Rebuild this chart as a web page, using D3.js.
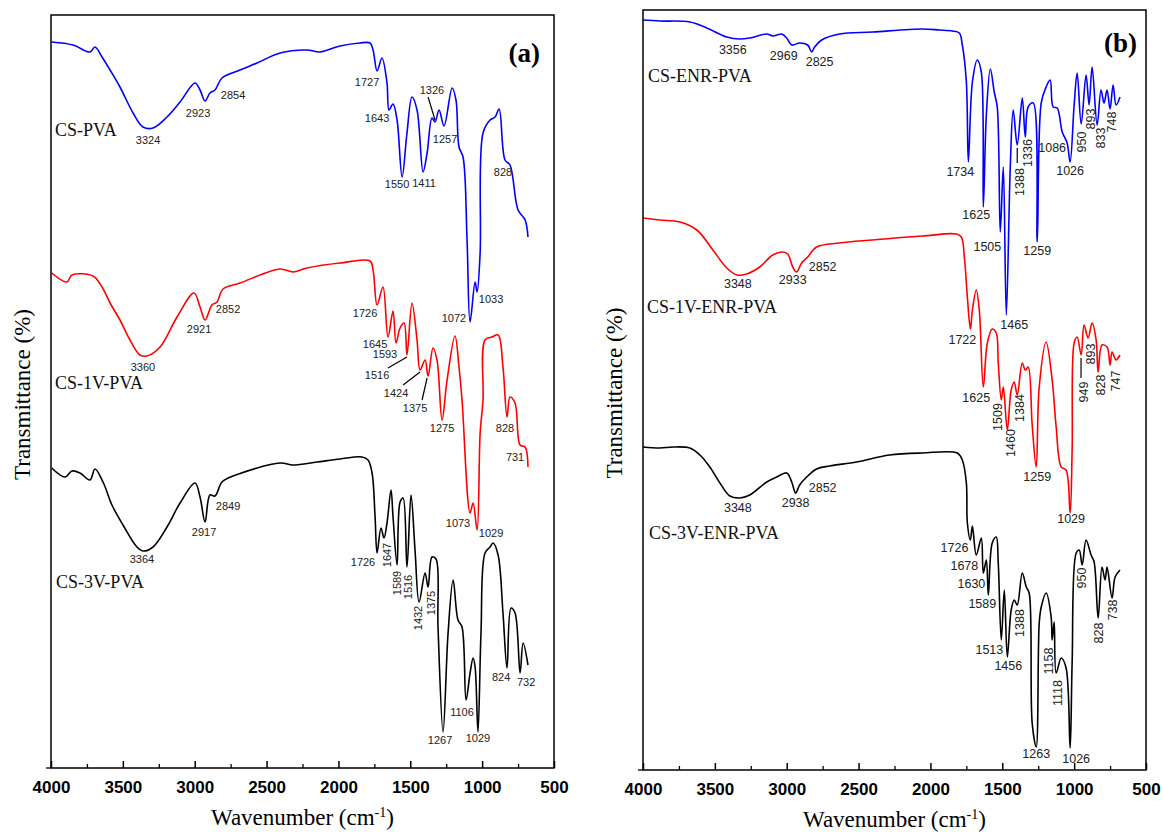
<!DOCTYPE html>
<html>
<head>
<meta charset="utf-8">
<script src="https://cdn.jsdelivr.net/npm/d3@7"></script>
<style>
  body { margin: 0; background: #fff; }
  svg { display: block; }
</style>
</head>
<body>
<svg id="chart" width="1163" height="832"></svg>
<script>
// ---- data: [wavenumber (cm-1), transmittance (offset %)] ----
const csPva = [[3995,72.6],[3847,72.3],[3729,71.6],[3694,72.1],[3645,71.1],[3589,69.8],[3520,68.1],[3429,65.5],[3360,64.1],[3290,64.0],[3193,65.1],[3102,66.6],[2998,68.5],[2963,67.8],[2928,66.7],[2894,67.5],[2859,67.8],[2810,69.0],[2685,69.8],[2566,70.5],[2406,71.5],[2218,71.8],[2128,71.6],[1989,72.2],[1850,72.5],[1780,72.5],[1759,71.8],[1731,69.7],[1697,71.0],[1662,68.5],[1648,65.8],[1620,66.4],[1592,64.8],[1557,59.1],[1523,63.5],[1488,67.1],[1453,65.8],[1411,59.6],[1383,61.5],[1349,65.0],[1328,64.6],[1300,65.8],[1265,64.2],[1209,68.0],[1182,66.8],[1161,62.1],[1133,61.1],[1105,52.8],[1084,44.6],[1049,48.6],[1035,47.6],[1014,51.5],[994,63.5],[945,64.8],[910,65.1],[882,65.9],[841,60.8],[806,60.3],[750,55.8],[701,54.8],[681,53.1]];
const cs1vPva = [[3995,49.5],[3889,48.6],[3854,49.3],[3708,49.2],[3645,48.1],[3589,46.5],[3520,44.8],[3450,42.8],[3381,41.3],[3332,41.2],[3241,42.1],[3123,45.1],[3005,47.5],[2963,46.1],[2928,44.8],[2880,46.3],[2845,46.6],[2803,47.9],[2685,48.5],[2406,49.9],[2316,49.6],[2218,50.0],[1989,50.5],[1780,50.7],[1759,49.8],[1731,46.3],[1690,48.1],[1655,43.1],[1620,45.7],[1599,42.5],[1571,44.0],[1543,44.5],[1523,41.3],[1488,46.5],[1453,42.8],[1432,39.8],[1397,40.8],[1376,39.2],[1342,42.0],[1314,40.8],[1279,34.8],[1244,38.8],[1189,43.2],[1161,40.1],[1140,36.8],[1084,25.5],[1063,26.5],[1035,23.8],[1014,33.5],[994,36.8],[980,42.8],[931,43.1],[889,43.3],[855,40.1],[827,35.1],[806,37.1],[771,36.5],[736,32.3],[701,32.1],[681,30.1]];
const cs3vPva = [[3995,30.0],[3903,29.1],[3854,29.7],[3798,29.5],[3729,28.8],[3694,29.9],[3638,28.6],[3576,26.3],[3499,24.3],[3402,22.1],[3360,21.7],[3290,22.1],[3193,24.1],[3102,26.5],[2998,28.5],[2963,27.1],[2928,24.6],[2894,27.3],[2859,27.2],[2810,28.6],[2733,29.2],[2406,30.5],[2316,30.3],[2149,30.6],[1989,30.9],[1836,31.1],[1794,30.8],[1766,29.5],[1745,25.1],[1731,21.5],[1704,24.0],[1683,23.0],[1662,24.5],[1634,27.8],[1620,25.1],[1592,20.3],[1571,26.6],[1550,27.0],[1523,20.1],[1495,27.3],[1467,21.8],[1439,16.6],[1397,19.5],[1376,18.1],[1349,21.1],[1321,20.9],[1307,14.1],[1272,3.6],[1237,13.5],[1202,18.8],[1168,14.8],[1140,14.1],[1112,6.8],[1084,9.5],[1063,11.0],[1049,10.1],[1029,3.6],[1008,13.5],[980,21.5],[945,22.1],[924,22.5],[889,21.3],[855,15.5],[827,10.0],[799,16.0],[771,15.5],[736,9.5],[715,12.5],[681,10.3]];

const csEnrPva = [[4000,75.0],[3882,74.9],[3674,74.8],[3556,74.2],[3417,73.3],[3326,73.1],[3257,73.2],[3139,73.6],[3097,73.4],[3035,73.6],[3000,73.2],[2965,72.5],[2910,72.7],[2854,72.5],[2826,71.8],[2806,72.3],[2757,73.0],[2632,73.6],[2403,73.8],[2056,74.1],[1938,74.0],[1847,73.9],[1799,73.7],[1778,72.5],[1750,68.8],[1736,60.8],[1708,68.8],[1674,71.0],[1646,69.8],[1632,56.3],[1611,65.5],[1583,70.1],[1556,67.8],[1535,66.3],[1514,53.8],[1493,60.3],[1472,45.5],[1444,60.5],[1424,66.0],[1396,62.5],[1361,67.2],[1340,63.3],[1320,66.3],[1285,66.7],[1257,52.8],[1229,66.7],[1195,68.3],[1167,69.0],[1146,66.3],[1118,66.2],[1083,63.8],[1049,62.7],[1028,60.8],[1000,66.5],[979,69.7],[951,64.6],[917,69.5],[896,66.5],[875,70.3],[840,64.5],[813,68.0],[792,66.7],[771,68.0],[750,66.1],[729,68.5],[708,66.5],[681,67.3]];
const cs1vEnrPva = [[4000,55.2],[3882,55.0],[3743,54.8],[3625,54.0],[3514,52.0],[3417,50.2],[3347,49.5],[3278,49.6],[3188,50.3],[3097,51.5],[3028,51.8],[2993,51.6],[2958,50.3],[2931,49.8],[2896,50.7],[2854,51.3],[2792,52.3],[2632,52.7],[2403,53.0],[2056,53.4],[1820,53.6],[1785,53.3],[1764,51.3],[1743,47.3],[1722,44.1],[1708,46.0],[1681,48.0],[1660,46.0],[1632,38.3],[1604,42.7],[1570,44.1],[1542,43.7],[1528,40.7],[1507,37.0],[1493,38.3],[1465,34.0],[1438,38.0],[1417,38.8],[1396,37.5],[1361,40.7],[1340,40.0],[1320,40.3],[1292,34.5],[1264,30.3],[1243,38.3],[1195,42.8],[1153,39.0],[1125,34.3],[1090,30.3],[1056,30.0],[1028,25.7],[1014,32.0],[1000,42.7],[979,43.3],[951,41.5],[931,44.5],[903,43.2],[875,44.7],[847,43.0],[833,39.8],[806,42.5],[771,42.3],[750,40.5],[736,41.8],[708,41.0],[681,41.5]];
const cs3vEnrPva = [[4000,32.3],[3882,32.2],[3792,32.3],[3674,32.2],[3604,31.5],[3535,30.3],[3465,28.7],[3396,27.4],[3326,27.2],[3257,27.5],[3139,28.8],[3069,29.3],[3000,29.7],[2965,28.8],[2938,27.7],[2910,28.5],[2861,29.3],[2792,30.1],[2701,30.4],[2514,30.8],[2285,31.5],[2056,31.7],[1813,31.7],[1778,31.0],[1750,28.7],[1743,24.7],[1722,23.0],[1708,24.4],[1681,21.5],[1646,23.2],[1632,19.7],[1611,21.0],[1597,17.5],[1570,22.7],[1542,23.3],[1528,20.7],[1507,13.0],[1486,18.0],[1465,11.3],[1438,16.0],[1417,17.0],[1396,16.5],[1361,19.7],[1333,18.3],[1313,17.7],[1292,4.7],[1264,2.3],[1243,14.7],[1229,16.3],[1195,17.7],[1160,15.3],[1153,13.0],[1139,14.8],[1125,9.7],[1090,11.2],[1056,10.2],[1028,2.2],[1014,10.7],[986,21.7],[965,22.0],[944,20.5],[917,23.0],[882,21.5],[861,20.8],[833,15.2],[806,20.3],[785,19.0],[771,20.3],[736,17.2],[715,19.3],[681,20.0]];

// peak labels: [text, wavenumber, transmittance, rotated]
const peaksA = [["3324",3325,62.8],["2923",2977,65.5],["2854",2733,67.3],["1727",1801,68.6],["1643",1731,65.0],["1326",1349,67.8],["1257",1258,62.9],["1550",1592,58.4],["1411",1404,58.5],["828",855,59.6],["1072",1196,45.0],["1033",938,46.9],
  ["3360",3360,40.1],["2921",2970,43.9],["2852",2768,45.9],["1726",1815,45.5],["1645",1745,42.4],["1593",1676,41.4],["1516",1731,39.3],["1424",1599,37.5],["1375",1467,36.0],["1275",1279,34.0],["828",841,34.0],["731",771,31.1],["1073",1168,24.5],["1029",938,23.5],
  ["3364",3367,20.9],["2917",2935,23.6],["2849",2768,26.2],["1726",1829,20.6],["1647",1662,21.3,true],["1589",1592,18.5,true],["1516",1516,18.1,true],["1432",1446,15.0,true],["1375",1356,16.5,true],["1106",1140,5.6],["1267",1293,2.8],["1029",1029,3.0],["824",868,9.1],["732",694,8.6]];
const leadersA = [[1376,67.1,1328,64.8],[1655,40.0,1523,41.1],[1550,38.3,1432,39.6],[1418,36.8,1383,39.0]];
const namesA = [["CS-PVA",3972,63.8],["CS-1V-PVA",3972,38.5],["CS-3V-PVA",3965,18.6]];

const peaksB = [["3356",3375,72.0],["2969",3021,71.4],["2825",2771,70.8],["1734",1792,59.8],["1625",1681,55.5],["1505",1604,52.3],["1259",1257,51.9],["1388",1382,58.8,true],["1336",1327,61.7,true],["1086",1153,62.2],["1026",1028,59.9],["950",945,62.8,true],["893",882,65.1,true],["833",813,63.2,true],["748",736,64.8,true],["1465",1417,44.5],
  ["3348",3340,48.6],["2933",2958,49.0],["2852",2750,50.3],["1722",1778,43.0],["1625",1681,37.2],["1509",1535,35.3,true],["1384",1382,36.2,true],["1460",1445,32.7,true],["1259",1257,29.3],["1029",1021,25.1],["949",931,37.8,true],["893",882,41.6,true],["828",813,38.5,true],["747",709,38.9,true],
  ["3348",3340,26.2],["2938",2938,26.7],["2852",2750,28.2],["1726",1833,22.2],["1678",1764,20.4],["1630",1715,18.6],["1589",1639,16.6],["1513",1590,12.0],["1456",1458,10.4],["1388",1382,14.7,true],["1158",1181,10.9,true],["1118",1118,7.7,true],["1263",1264,1.6],["1026",986,1.1],["950",945,19.2,true],["828",827,13.7,true],["738",729,16.0,true]];
const leadersB = [[1396,62.2,1396,60.7],[952,41.2,952,39.2]];
const namesB = [["CS-ENR-PVA",3965,69.4],["CS-1V-ENR-PVA",3972,46.3],["CS-3V-ENR-PVA",3958,23.7]];

const majorTicks = [4000, 3500, 3000, 2500, 2000, 1500, 1000, 500];
const minorTicks = [3750, 3250, 2750, 2250, 1750, 1250, 750];

const svg = d3.select("#chart");
const sans = "'Liberation Sans', Arial, sans-serif";
const serif = "'Liberation Serif', 'Times New Roman', serif";

function drawPanel(p) {
    const x = d3.scaleLinear().domain([4000, 500]).range([p.left, p.right]);
    const y = d3.scaleLinear().domain([0, p.ymax]).range([p.bottom, p.top]);
    const g = svg.append("g");

    // spectra, smoothed between the read-off points
    const line = d3.line().x(d => x(d[0])).y(d => y(d[1])).curve(d3.curveCatmullRom.alpha(0.5));
    p.series.forEach(s => {
        g.append("path").datum(s.data)
            .attr("d", line)
            .attr("fill", "none")
            .attr("stroke", s.color)
            .attr("stroke-width", 1.6)
            .attr("stroke-linejoin", "round");
    });

    // frame
    g.append("rect")
        .attr("x", p.left).attr("y", p.top)
        .attr("width", p.right - p.left).attr("height", p.bottom - p.top)
        .attr("fill", "none").attr("stroke", "#000").attr("stroke-width", 1.5);

    // x axis (ticks inward)
    const ax = g.append("g").attr("transform", `translate(0,${p.bottom})`)
        .call(d3.axisBottom(x).tickValues(majorTicks).tickSize(-7).tickSizeOuter(0).tickPadding(13).tickFormat(d3.format("d")));
    ax.select(".domain").remove();
    ax.selectAll("line").attr("stroke-width", 1.5);
    ax.selectAll("text").attr("font-family", sans).attr("font-weight", "bold").attr("font-size", 17).attr("fill", "#000");
    const mn = g.append("g").attr("transform", `translate(0,${p.bottom})`)
        .call(d3.axisBottom(x).tickValues(minorTicks).tickSize(-4).tickSizeOuter(0).tickFormat(""));
    mn.select(".domain").remove();
    mn.selectAll("line").attr("stroke-width", 1.3);
    g.append("line").attr("x1", p.left - 5).attr("x2", p.left)
        .attr("y1", p.bottom).attr("y2", p.bottom).attr("stroke", "#000").attr("stroke-width", 1.3);

    // axis titles
    const xt = g.append("text")
        .attr("x", (p.left + p.right) / 2).attr("y", p.bottom + 57)
        .attr("text-anchor", "middle").attr("font-family", serif).attr("font-size", 23);
    xt.append("tspan").text("Wavenumber (cm");
    xt.append("tspan").attr("dy", -8).attr("font-size", 14).text("-1");
    xt.append("tspan").attr("dy", 8).text(")");
    g.append("text")
        .attr("transform", `translate(${p.left - 29},${(p.top + p.bottom) / 2 + 3}) rotate(-90)`)
        .attr("text-anchor", "middle").attr("dy", "0.35em").attr("font-family", serif).attr("font-size", 23)
        .text("Transmittance (%)");

    // panel letter
    g.append("text").attr("x", x(p.letter[1])).attr("y", y(p.letter[2]))
        .attr("dy", "0.35em").attr("text-anchor", "end")
        .attr("font-family", serif).attr("font-weight", "bold").attr("font-size", 27)
        .text(p.letter[0]);

    // series names
    g.selectAll(".name").data(p.names).enter().append("text")
        .attr("x", d => x(d[1])).attr("y", d => y(d[2])).attr("dy", "0.35em")
        .attr("font-family", serif).attr("font-size", 18).attr("fill", "#111")
        .text(d => d[0]);

    // leader lines
    g.selectAll(".leader").data(p.leaders).enter().append("line")
        .attr("x1", d => x(d[0])).attr("y1", d => y(d[1]))
        .attr("x2", d => x(d[2])).attr("y2", d => y(d[3]))
        .attr("stroke", "#000").attr("stroke-width", 1.2);

    // peak labels
    g.selectAll(".peak").data(p.peaks).enter().append("text")
        .attr("transform", d => `translate(${x(d[1])},${y(d[2])})` + (d[3] ? " rotate(-90)" : ""))
        .attr("dy", "0.35em").attr("text-anchor", "middle")
        .attr("font-family", sans).attr("font-size", p.labelSize).attr("fill", "#222")
        .text(d => d[0]);
}

drawPanel({
    left: 51, right: 554, top: 15, bottom: 768, ymax: 75.3, labelSize: 11,
    series: [{data: csPva, color: "#0000ff"}, {data: cs1vPva, color: "#ff0000"}, {data: cs3vPva, color: "#000000"}],
    peaks: peaksA, leaders: leadersA, names: namesA, letter: ["(a)", 597, 71.5]
});
drawPanel({
    left: 643, right: 1146, top: 10, bottom: 770, ymax: 76, labelSize: 12.5,
    series: [{data: csEnrPva, color: "#0000ff"}, {data: cs1vEnrPva, color: "#ff0000"}, {data: cs3vEnrPva, color: "#000000"}],
    peaks: peaksB, leaders: leadersB, names: namesB, letter: ["(b)", 563, 72.7]
});
</script>
</body>
</html>
